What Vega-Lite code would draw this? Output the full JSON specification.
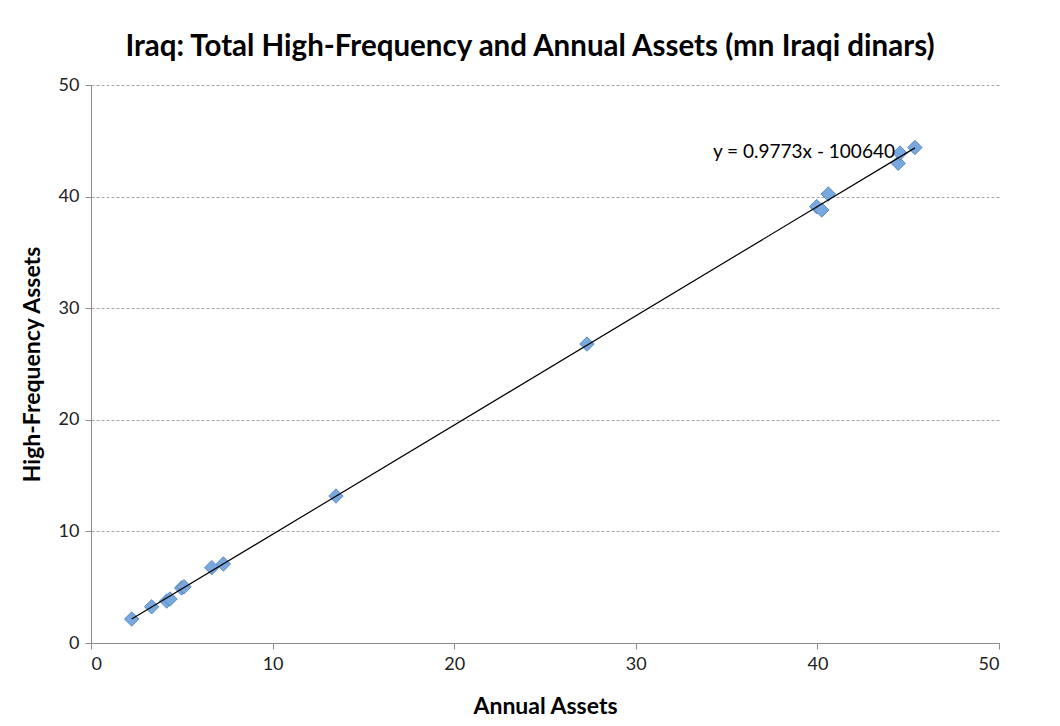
{
  "$schema": "https://vega.github.io/schema/vega-lite/v6.json",
  "autosize": "none",
  "width": 908,
  "height": 558,
  "padding": {"left": 91, "top": 85, "right": 61, "bottom": 83},
  "background": "white",
  "title": {
    "text": "Iraq: Total High-Frequency and Annual Assets (mn Iraqi dinars)",
    "font": "Lato",
    "fontSize": 29.5,
    "fontWeight": "bold",
    "color": "#000000",
    "anchor": "middle",
    "dx": -15,
    "offset": 14
  },
  "config": {
    "view": {"stroke": null},
    "font": "Lato",
    "axis": {
      "labelFont": "Lato",
      "labelFontSize": 18,
      "labelColor": "#222222",
      "titleFont": "Lato",
      "titleFontSize": 23,
      "titleFontWeight": "bold",
      "titleColor": "#000000",
      "domainColor": "#8c8c8c",
      "tickColor": "#8c8c8c",
      "tickSize": 6
    }
  },
  "data": {
    "values": [
      {"annual": 2.24, "hf": 2.15},
      {"annual": 3.34, "hf": 3.25},
      {"annual": 4.17, "hf": 3.76},
      {"annual": 4.35, "hf": 3.94},
      {"annual": 4.99, "hf": 4.93},
      {"annual": 5.12, "hf": 5.04},
      {"annual": 6.65, "hf": 6.75},
      {"annual": 7.29, "hf": 7.08},
      {"annual": 13.49, "hf": 13.17},
      {"annual": 27.31, "hf": 26.79},
      {"annual": 39.96, "hf": 39.1},
      {"annual": 40.24, "hf": 38.8},
      {"annual": 40.6, "hf": 40.23},
      {"annual": 44.45, "hf": 42.98},
      {"annual": 44.55, "hf": 43.9},
      {"annual": 45.37, "hf": 44.4}
    ]
  },
  "layer": [
    {
      "mark": {"type": "point", "shape": "diamond", "filled": true, "size": 210, "color": "#79a8de", "stroke": "#4a7ebb", "strokeWidth": 0.8, "opacity": 1},
      "encoding": {
        "x": {
          "field": "annual", "type": "quantitative", "title": "Annual Assets",
          "scale": {"domain": [0, 50], "nice": false},
          "axis": {"values": [0, 10, 20, 30, 40, 50], "grid": false, "labelPadding": 6, "titlePadding": 22, "tickSize": 6}
        },
        "y": {
          "field": "hf", "type": "quantitative", "title": "High-Frequency Assets",
          "scale": {"domain": [0, 50], "nice": false},
          "axis": {"values": [0, 10, 20, 30, 40, 50], "grid": true, "gridDash": [3, 2], "gridColor": "#a6a6a6", "labelPadding": 6, "titlePadding": 14, "tickSize": 6}
        }
      }
    },
    {
      "transform": [{"regression": "hf", "on": "annual", "extent": [2.24, 45.37]}],
      "mark": {"type": "line", "color": "#000000", "strokeWidth": 1.2},
      "encoding": {
        "x": {"field": "annual", "type": "quantitative"},
        "y": {"field": "hf", "type": "quantitative"}
      }
    },
    {
      "data": {"values": [{"annual": 44.27, "hf": 44.0, "label": "y = 0.9773x - 100640"}]},
      "mark": {"type": "text", "align": "right", "baseline": "middle", "fontSize": 19, "font": "Lato", "color": "#000000"},
      "encoding": {
        "x": {"field": "annual", "type": "quantitative"},
        "y": {"field": "hf", "type": "quantitative"},
        "text": {"field": "label"}
      }
    }
  ]
}
